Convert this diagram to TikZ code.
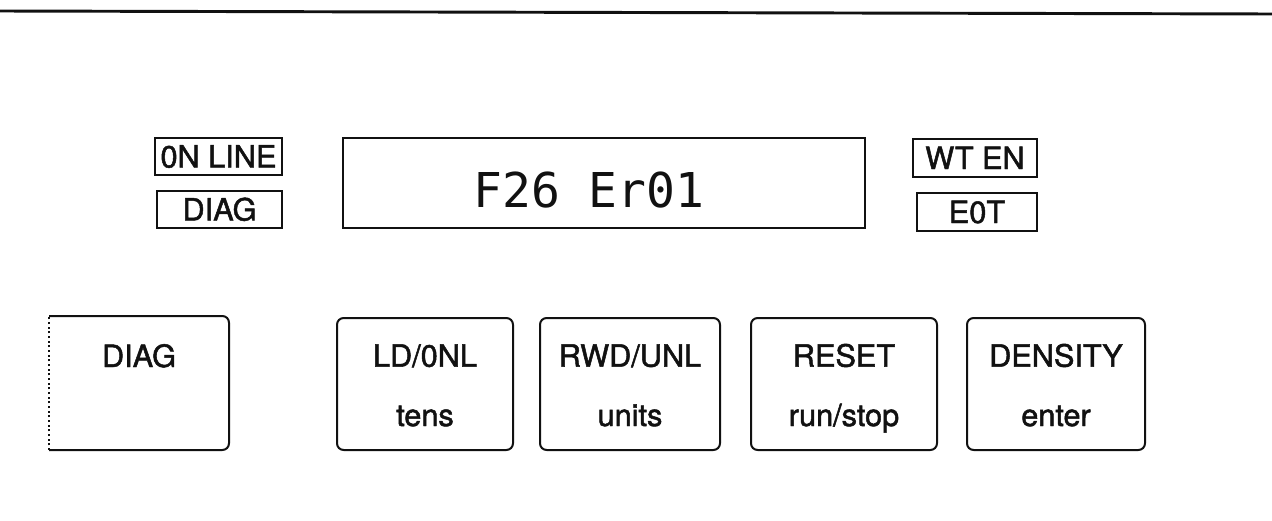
\documentclass[tikz,border=0pt]{standalone}
\usepackage{fontspec}
\setmainfont{TeX Gyre Heros}
\newfontfamily\panelfont{TeX Gyre Heros}[FakeBold=1.6]
\newfontfamily\lcdfont{DejaVu Sans Mono}
\usetikzlibrary{positioning}
\definecolor{ink}{HTML}{111111}

\begin{document}
\begin{tikzpicture}[x=0.75pt, y=-0.75pt, line width=1.5pt,
    lamp/.style={draw=ink, inner sep=0pt, minimum height=28pt, text=ink,
      text height=16.5pt, text depth=0pt, font=\panelfont\fontsize{23}{26}\selectfont},
    keybox/.style={draw=ink, rounded corners=5pt, inner sep=0pt, minimum height=99pt},
    keytxt/.style={text=ink, text height=16.5pt, text depth=0pt, font=\panelfont\fontsize{23}{26}\selectfont}]
  \useasboundingbox (0,0) rectangle (1272,521);
  % Rule along the top of the sheet.
  \draw[ink, line width=2.2pt] (0,11) -- (1272,14);
  % Status lamps, two each side of the window.
  \foreach \nm/\cx/\cy/\w/\txt in {online/218.5/156.5/127/{0N LINE}, diaglamp/219.5/209.5/125/DIAG,
      wten/975/158/124/{WT EN}, eot/977/212/120/E0T} {
    \node[lamp, minimum width=\w*0.75pt] (\nm) at (\cx,\cy) {\txt};
  }
  % The display window and its readout.
  \node[draw=ink, minimum width=391pt, minimum height=68pt] (display) at (604,183) {};
  \node[text=ink, inner sep=0pt] (readout) at (589,190)
    {\lcdfont\fontsize{36}{40}\selectfont F26 Er01};
  % The row of keys.
  \node[keybox, draw=none, minimum width=133.5pt] (k0) at (139,383) {};
  \draw[ink, rounded corners=5pt] (k0.north west) -- (k0.north east) -- (k0.south east) -- (k0.south west);
  \draw[ink, dotted] (k0.south west) -- (k0.north west);
  \node[keytxt] (k0top) at ([yshift=-30pt]k0.north) {DIAG};
  \foreach \nm/\cx/\w/\up/\dn in {k1/425/176/{LD/0NL}/tens, k2/630/180/{RWD/UNL}/units,
      k3/844/186/RESET/{run/stop}, k4/1056/178/DENSITY/enter} {
    \node[keybox, minimum width=\w*0.75pt] (\nm) at (\cx,384) {};
    \node[keytxt] (\nm top) at ([yshift=-29pt]\nm.north) {\up};
    \node[keytxt] (\nm bot) at ([yshift=27pt]\nm.south) {\dn};
  }
\end{tikzpicture}
\end{document}
